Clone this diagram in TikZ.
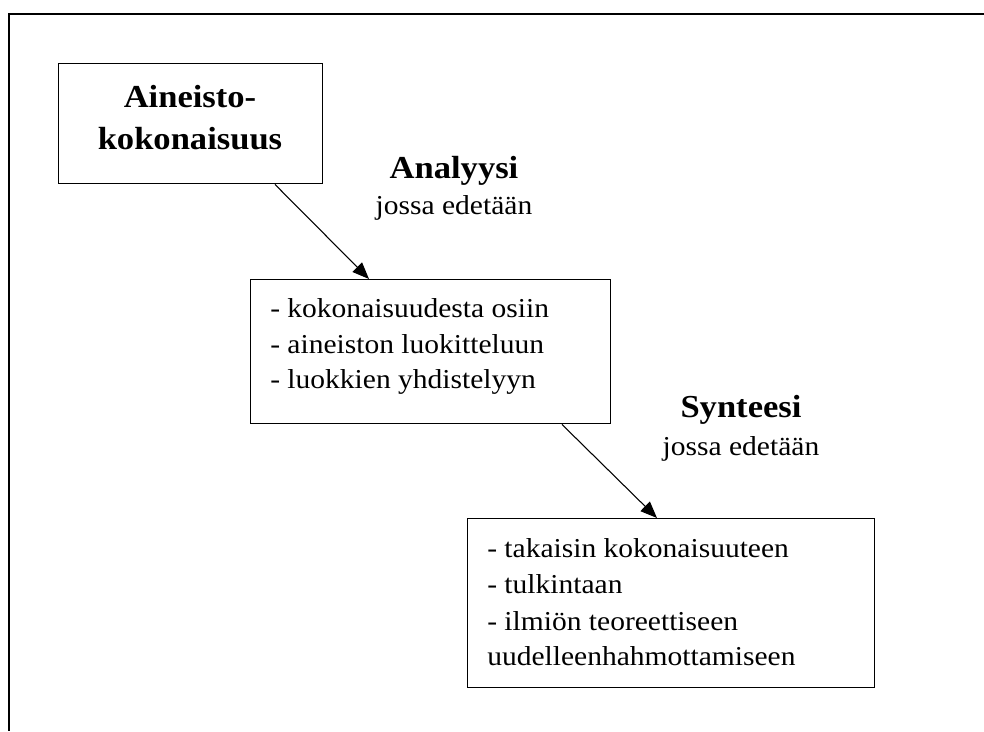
\documentclass[tikz,border=0pt]{standalone}
\usepackage{fontspec}
\setmainfont{Liberation Serif}[FakeStretch=1.08]
\usetikzlibrary{arrows.meta,calc}

\tikzset{
  box/.style={draw, line width=1.1pt, rectangle, inner sep=0pt, anchor=north west},
  link/.style={line width=0.8pt, -{Triangle[length=12.5pt,width=10pt]}},
  body/.style={inner sep=0pt, anchor=base west, font=\fontsize{20.5}{24}\selectfont},
  title/.style={inner sep=0pt, anchor=base, font=\fontsize{24}{28}\selectfont\bfseries},
  sub/.style={inner sep=0pt, anchor=base, font=\fontsize{20.5}{24}\selectfont}
}

\begin{document}
\begin{tikzpicture}[x=0.75pt, y=-0.75pt]
  \useasboundingbox (0,0) rectangle (984,731);

  % open frame: top and left edges only
  \draw[line width=1.7pt] (984,14) -- (9,14) -- (9,731);

  % boxes
  \node[box, minimum width=264*0.75pt, minimum height=120*0.75pt] (b1) at (58,63) {};
  \node[box, minimum width=360*0.75pt, minimum height=144*0.75pt] (b2) at (250,279) {};
  \node[box, minimum width=407*0.75pt, minimum height=169*0.75pt] (b3) at (467,518) {};

  % first box title
  \node[title] (t1) at (190,108) {Aineisto-};
  \node[title] (t2) at (190,150) {kokonaisuus};

  % second box contents
  \node[body] (l1) at (270,317) {- kokonaisuudesta osiin};
  \node[body] (l2) at (270,353) {- aineiston luokitteluun};
  \node[body] (l3) at (270,388) {- luokkien yhdistelyyn};

  % third box contents
  \node[body] (m1) at (487,557) {- takaisin kokonaisuuteen};
  \node[body] (m2) at (487,593) {- tulkintaan};
  \node[body] (m3) at (487,630) {- ilmiön teoreettiseen};
  \node[body] (m4) at (487,665) {uudelleenhahmottamiseen};

  % step labels
  \node[title] (a1) at (454,178) {Analyysi};
  \node[sub] (a2) at (454,214) {jossa edetään};
  \node[title] (s1) at (741,417) {Synteesi};
  \node[sub] (s2) at (741,455) {jossa edetään};

  % connectors
  \draw[link] ($(b1.south west)+(217,0)$) -- ($(b2.north west)+(119,0)$);
  \draw[link] ($(b2.south west)+(312,0)$) -- ($(b3.north west)+(190,0)$);
\end{tikzpicture}
\end{document}
